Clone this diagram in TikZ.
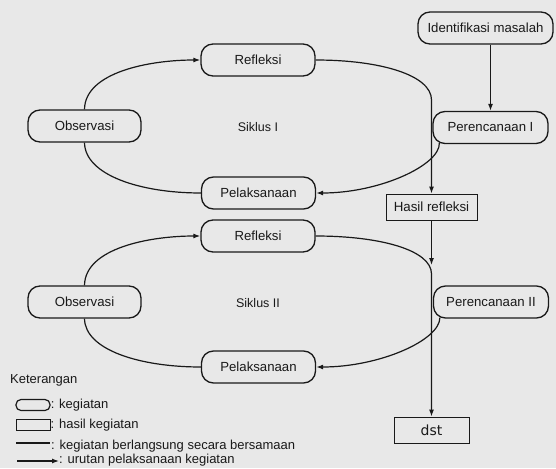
\documentclass[tikz,border=0pt]{standalone}
\usepackage{fontspec}
\setmainfont{Liberation Sans}
\newfontfamily\dstfont{DejaVu Sans}
\usetikzlibrary{arrows.meta}
\definecolor{bg}{RGB}{232,232,232}
\definecolor{ink}{RGB}{25,25,25}
\begin{document}
\begin{tikzpicture}[x=1pt,y=-1pt,
  every node/.style={text=ink},
  keg/.style={draw=ink, line width=1.3pt, rounded corners=12pt, minimum width=114pt, minimum height=32pt, inner sep=0pt, font=\fontsize{13.2}{15}\selectfont},
  hasil/.style={draw=ink, line width=0.8pt, minimum height=26pt, inner sep=0pt},
  con/.style={draw=ink, line width=1.2pt},
  arr/.style={con, -{Latex[length=7pt,width=5pt]}},
  lbl/.style={anchor=west, inner sep=0pt, font=\fontsize{13}{14}\selectfont}]
\useasboundingbox[fill=bg] (0,0) rectangle (556,468);

% cycle I
\node[keg, minimum width=135pt] (Iden) at (485.5,28) {Identifikasi masalah};
\node[keg] (Ref1) at (258,60) {Refleksi};
\node[keg, minimum width=113pt] (Obs1) at (84.5,126) {Observasi};
\node[keg, minimum width=115pt] (Per1) at (490.5,127.5) {Perencanaan I};
\node[keg] (Pel1) at (258.5,193) {Pelaksanaan};
\node[font=\fontsize{12.5}{14}\selectfont] (Sik1) at (258,127) {Siklus I};
\node[hasil, minimum width=91pt, font=\fontsize{13.3}{15}\selectfont] (Hasil) at (431.5,207) {Hasil refleksi};

% cycle II
\node[keg] (Ref2) at (258,236) {Refleksi};
\node[keg, minimum width=113pt] (Obs2) at (84.5,302) {Observasi};
\node[keg, minimum width=115pt] (Per2) at (491,302) {Perencanaan II};
\node[keg] (Pel2) at (258.5,367) {Pelaksanaan};
\node[font=\fontsize{12.5}{14}\selectfont] (Sik2) at (258,303) {Siklus II};
\node[hasil, minimum width=75pt, font=\dstfont\fontsize{14}{15}\selectfont] (dst) at (431.5,430) {dst};

\coordinate (m1) at (431.5,100);
\coordinate (m2a) at (431.5,265);
\coordinate (m2) at (431.5,274);

% connectors cycle I
\draw[arr] (Iden.south -| Per1.north) -- (Per1.north);
\draw[arr] (Obs1.north) .. controls (85,72) and (150,60) .. (Ref1.west);
\draw[arr] (Ref1.east) .. controls (380,60) and (431.5,75) .. (m1) -- (Hasil.north);
\draw[arr] ([xshift=7pt,yshift=1pt]Per1.south west) .. controls (440,165) and (380,193) .. (Pel1.east);
\draw[con] (Pel1.west) .. controls (140,193) and (85,175) .. (Obs1.south);

% connectors cycle II
\draw[arr] (Hasil.south) -- (m2a);
\draw[arr] (Obs2.north) .. controls (85,248) and (150,236) .. (Ref2.west);
\draw[arr] (Ref2.east) .. controls (380,236) and (431.5,250) .. (m2) -- (dst.north);
\draw[arr] ([xshift=7pt,yshift=1pt]Per2.south west) .. controls (440,340) and (380,367) .. (Pel2.east);
\draw[con] (Pel2.west) .. controls (140,367) and (85,350) .. (Obs2.south);

% legend
\node[lbl] (ket) at (10,380) {Keterangan};
\node[draw=ink, line width=1.2pt, rounded corners=5pt, minimum width=34pt, minimum height=11pt, inner sep=0pt] (lg1) at (33,405) {};
\node[lbl] (lt1) at (lg1.east) {: kegiatan};
\node[draw=ink, line width=0.9pt, minimum width=34pt, minimum height=11pt, inner sep=0pt] (lg2) at (33,425) {};
\node[lbl] (lt2) at (lg2.east) {: hasil kegiatan};
\coordinate (l3a) at (16,443);
\coordinate (l3b) at (50,443);
\draw[con] (l3a) -- (l3b);
\node[lbl] (lt3) at (51,446) {: kegiatan berlangsung secara bersamaan};
\coordinate (l4a) at (17,461);
\coordinate (l4b) at (59,461);
\draw[arr] (l4a) -- (l4b);
\node[lbl] (lt4) at (59,460.5) {: urutan pelaksanaan kegiatan};
\end{tikzpicture}
\end{document}
